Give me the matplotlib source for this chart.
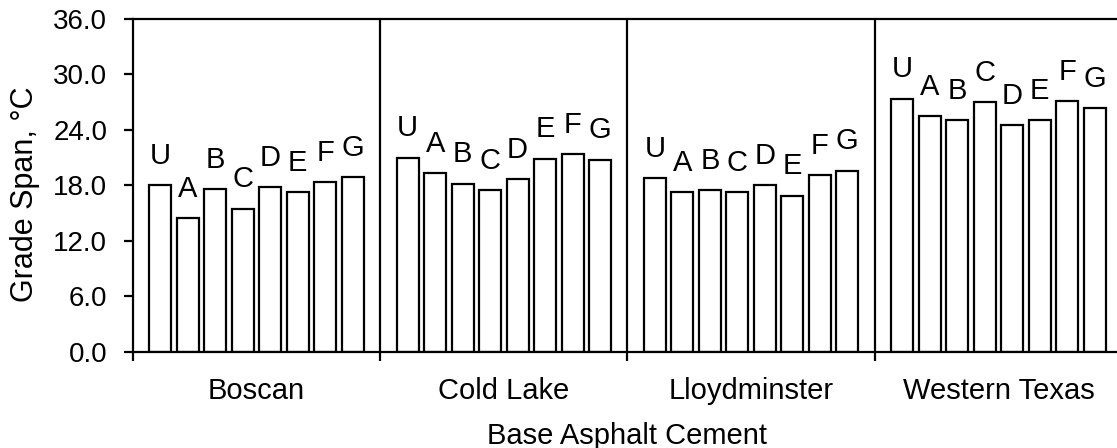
import matplotlib.pyplot as plt
import numpy as np

plt.rcParams['font.family'] = ['Liberation Sans', 'DejaVu Sans']

asphalts = ['Boscan', 'Cold Lake', 'Lloydminster', 'Western Texas']
modifiers = ['U', 'A', 'B', 'C', 'D', 'E', 'F', 'G']

boscan = [18.0, 14.5, 17.6, 15.5, 17.8, 17.3, 18.4, 18.9]
cold_lake = [21.0, 19.3, 18.2, 17.5, 18.7, 20.9, 21.4, 20.8]
lloydminster = [18.8, 17.3, 17.5, 17.3, 18.0, 16.9, 19.1, 19.6]
western_texas = [27.4, 25.5, 25.1, 27.0, 24.5, 25.1, 27.1, 26.4]

yticks = [0.0, 6.0, 12.0, 18.0, 24.0, 30.0, 36.0]

fig = plt.figure(figsize=(11.17, 4.48), dpi=100)
ax = fig.add_axes([0.119, 0.2143, 0.8855, 0.7433])

groups = [boscan, cold_lake, lloydminster, western_texas]
step = 1 / 9
for g, vals in enumerate(groups):
    xs = g + step * (np.arange(len(vals)) + 1)
    ax.bar(xs, vals, width=step * 0.8, color='white', edgecolor='black',
           linewidth=1.6, zorder=2)
    for x, v, lab in zip(xs, vals, modifiers):
        ax.annotate(lab, (x, v), textcoords='offset points', xytext=(0, 11),
                    ha='center', va='bottom', fontsize=21)
    if g > 0:
        ax.axvline(g, color='black', linewidth=1.6, zorder=3)

ax.set_xlim(0, 4)
ax.set_ylim(0, 36)
ax.set_yticks(yticks)
ax.set_yticklabels(['%.1f' % t for t in yticks], fontsize=20)
ax.set_xticks(range(5))
ax.set_xticklabels([])
ax.set_xticks([i + 0.5 for i in range(4)], minor=True)
ax.set_xticklabels(asphalts, minor=True, fontsize=21)
ax.tick_params(axis='x', which='minor', length=0, pad=18)
ax.tick_params(axis='both', which='major', direction='out', length=6.5, width=1.6)
ax.tick_params(axis='y', pad=12)
for s in ax.spines.values():
    s.set_linewidth(1.6)

ax.set_ylabel('Grade Span, °C', fontsize=22)
ax.yaxis.set_label_coords(-0.094, 0.475)
ax.set_xlabel('Base Asphalt Cement', fontsize=21, labelpad=12)

fig.savefig('out.png', dpi=100)
